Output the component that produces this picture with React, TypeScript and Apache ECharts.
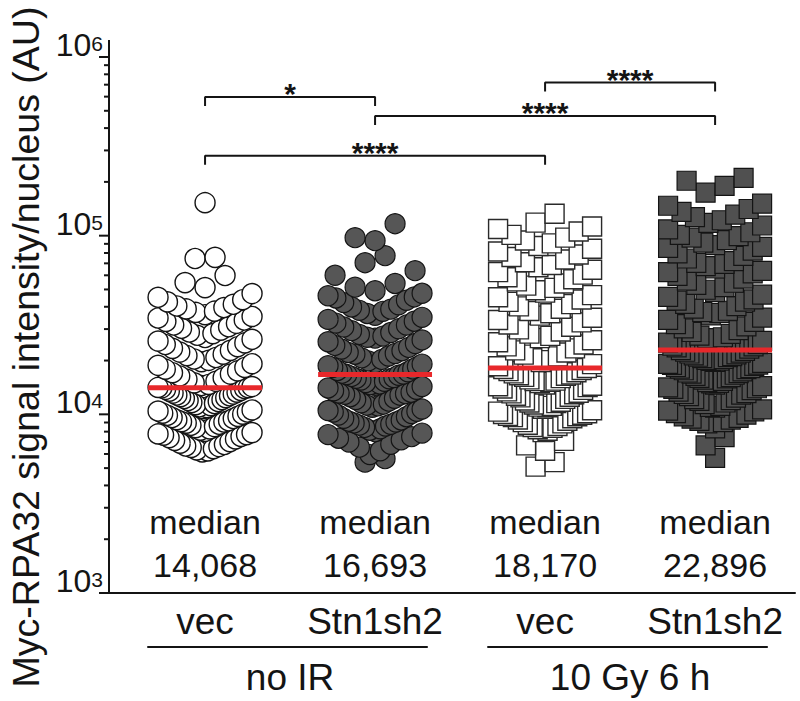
import React, { useEffect, useRef } from 'react';
import * as echarts from 'echarts';

// ---------- data ----------
const conditions = ['no IR', '10 Gy 6 h'];
const categories = ['vec', 'Stn1sh2', 'vec', 'Stn1sh2'];
const medians = [14068, 16693, 18170, 22896];
const yMajorTicks = [1000, 10000, 100000, 1000000];
const yMinorTicks = [
  2000, 3000, 4000, 5000, 6000, 7000, 8000, 9000,
  20000, 30000, 40000, 50000, 60000, 70000, 80000, 90000,
  200000, 300000, 400000, 500000, 600000, 700000, 800000, 900000,
];

// vec, no IR (open circles)
const vecNoIR = [
  153000, 75600, 74500, 59800, 54600, 51200, 47400,
  45200, 43800, 42600, 41300, 40400, 39600, 38900, 37800, 37200, 36100, 35300, 34600, 33700, 33100, 32300, 31600, 30900, 30300,
  29600, 28900, 28300, 27700, 26900, 26300, 25700, 25100, 24600, 23900, 23400, 22800, 22300, 21700, 21300, 20800, 20400, 20050,
  19700, 19200, 18800, 18300, 17900, 17500, 17100, 16800, 16400, 16000, 15700, 15300, 15000, 14700, 14500, 14300, 14150, 14100,
  14068,
  13950, 13800, 13620, 13480, 13300, 13150, 12980, 12820, 12700, 12550,
  12400, 12260, 12080, 11950, 11800, 11640, 11500, 11330, 11180, 11020,
  10900, 10750, 10580, 10430, 10300, 10150, 10020, 9880, 9740, 9600,
  9470, 9330, 9200, 9060, 8930, 8800, 8680, 8540, 8420, 8280,
  8160, 8030, 7900, 7770, 7650, 7520, 7400, 7280, 7150, 7030,
  6900, 6780, 6650, 6530, 6420, 6320, 6240, 6160, 6600, 7700, 9100,
];

// Stn1sh2, no IR (filled circles)
const stnNoIR = [
  116700, 97500, 93800, 77300, 70600, 63700, 60000, 54000, 51500,
  49200, 47600, 46100, 44800, 43500, 42200, 41000, 39900, 38800, 37700, 36700, 35800, 34900, 34000, 33200, 32400, 31600, 30800, 30100,
  29400, 28700, 28000, 27400, 26700, 26100, 25500, 24900, 24300, 23700, 23200, 22700, 22200, 21700, 21200, 20700, 20300,
  19900, 19500, 19100, 18700, 18300, 17950, 17600, 17300, 17000, 16800,
  45400, 38200, 27000, 21900, 18500,
  16693,
  16550, 16300, 16050, 15800, 15550, 15300, 15050, 14800, 14550, 14300,
  14050, 13800, 13550, 13300, 13050, 12800, 12550, 12300, 12100, 11850,
  11600, 11400, 11150, 10950, 10700, 10500, 10300, 10100, 9900, 9700,
  9500, 9300, 9150, 8950, 8800, 8600, 8450, 8300, 8150, 8000,
  7850, 7700, 7500, 7350, 7200, 7000, 6800, 6550, 6250, 5950,
  5650, 5400, 12950, 11250, 10400, 9050, 8700, 15900, 14650, 13150,
];

// vec, 10 Gy 6 h (open squares)
const vecIR = [
  132700, 118300, 112500, 109000, 105500,
  101000, 97500, 94000, 90500, 87500, 84500, 81500,
  78500, 76000, 73500, 71000, 68500, 66500, 64500, 62500, 60500, 58500, 57000, 55500, 54000, 52500, 51000,
  49500, 48000, 46500, 45200, 43900, 42600, 41400, 40200, 39000, 37900, 36800, 35700, 34700, 33700, 32700, 31800, 30900,
  29900, 29100, 28300, 27500, 26700, 26000, 25300, 24600, 24000, 23400, 22800, 22200, 21600, 21100, 20600, 20100, 19600, 19100, 18600,
  18170,
  17950, 17700, 17450, 17200, 16950, 16700, 16450, 16200, 15950, 15700,
  15450, 15200, 14950, 14700, 14450, 14200, 13950, 13700, 13450, 13200,
  12950, 12700, 12450, 12200, 11950, 11750, 11550, 11350, 11150, 10950,
  10750, 10550, 10350, 10150, 9950, 9800, 9650, 9500, 9350, 9200,
  9050, 8900, 8750, 8600, 8500, 8400, 8250, 8100, 7950, 7100,
  6700, 6250, 5400, 5100, 12550, 11050, 10050, 9750, 14350, 13100,
  15350, 16550, 11650,
];

// Stn1sh2, 10 Gy 6 h (filled squares)
const stnIR = [
  210700, 203000, 190000, 174000, 151000,
  147000, 141000, 136000, 131000, 127000, 122000, 118000, 114000,
  108500, 104500, 101000, 97500, 94500, 91500, 88500, 85500, 82500,
  79500, 77000, 74500, 72000, 69500, 67500, 65500, 63500, 61500, 59500, 57500, 56000, 54500, 53000, 51500,
  49800, 48300, 46800, 45400, 44000, 42700, 41500, 40300, 39100, 38000, 36900, 35800, 34800, 33800, 32900, 32000, 31100, 30300,
  29600, 28900, 28200, 27600, 27000, 26400, 25800, 25200, 24700, 24200, 23700, 23300,
  99500, 86500, 70500, 62500, 43300, 37400, 26700, 24000,
  22896,
  22650, 22400, 22150, 21900, 21650, 21400, 21150, 20900, 20650, 20400,
  20150, 19900, 19650, 19400, 19150, 18900, 18650, 18400, 18150, 17900,
  17650, 17400, 17150, 16900, 16650, 16400, 16150, 15900, 15650, 15400,
  15150, 14900, 14650, 14400, 14150, 13900, 13650, 13400, 13150, 12900,
  12650, 12400, 12150, 11900, 11650, 11400, 11150, 10900, 10650, 10400,
  10150, 9950, 9750, 9550, 9350, 9200, 9050, 8900, 8350, 7450,
  6700, 5700, 21000, 19000, 17000, 15000, 13000, 11000, 9450, 12000,
  14000, 16000, 18000, 20000, 10500,
];

// significance brackets (group positions 1..4, bracket height as a y value)
const bracketFrom = [1, 3, 2, 1];
const bracketTo = [2, 4, 4, 3];
const bracketLevel = [598000, 719000, 468000, 280000];
const bracketStars = ['*', '****', '****', '****'];

// ---------- layout / style ----------
const W = 800;
const H = 701;
const GRID = { left: 109, right: 5, top: 57, bottom: 108 };
const X_MIN = 0.435;
const X_MAX = 4.47;
const Y_MIN = 1000;
const Y_MAX = 1000000;
const SWARM_HALF_PX = 47;
const SWARM_BIN_DECADE = 0.13;
const MEDIAN_HALF = 0.335;
const BRACKET_DROP_PX = 9;
const STAR_LIFT_PX = 3;
const MEDIAN_TEXT_LIFT_PX = 50;
const MAJOR_TICK_PX = 10;
const MINOR_TICK_PX = 5;
const FONT = "'Liberation Sans', Arial, Helvetica, sans-serif";
const INK = '#141414';
const RED = '#e8282b';

const pxPerUnit = (W - GRID.left - GRID.right) / (X_MAX - X_MIN);
const pxPerDecade = (H - GRID.top - GRID.bottom) / Math.log10(Y_MAX / Y_MIN);
const liftValue = (v: number, px: number) => v * Math.pow(10, px / pxPerDecade);

const groups = [
  { values: vecNoIR, symbol: 'circle', size: 20, fill: '#ffffff', border: INK, bw: 1.4 },
  { values: stnNoIR, symbol: 'circle', size: 20, fill: '#565656', border: INK, bw: 1.2 },
  { values: vecIR, symbol: 'rect', size: 19, fill: '#ffffff', border: '#2a2a2a', bw: 1.4 },
  { values: stnIR, symbol: 'rect', size: 19, fill: '#505050', border: INK, bw: 1.2 },
];

// Prism-like column scatter: values binned by log value, spread sideways, lowest in the middle
function swarm(values: number[], center: number, symbolPx: number): number[][] {
  const bins: Record<number, number[]> = {};
  values.forEach((v) => {
    const b = Math.floor(Math.log10(v) / SWARM_BIN_DECADE);
    (bins[b] = bins[b] || []).push(v);
  });
  const pts: number[][] = [];
  Object.keys(bins)
    .map(Number)
    .sort((a, b) => a - b)
    .forEach((b) => {
      const vs = bins[b].slice().sort((a, c) => a - c);
      const n = vs.length;
      const spacing = n > 1 ? Math.min(symbolPx, (2 * SWARM_HALF_PX) / (n - 1)) : 0;
      const slots = Array.from({ length: n }, (_, j) => (j - (n - 1) / 2) * spacing);
      slots.sort((a, c) => Math.abs(a) - Math.abs(c) || a - c);
      vs.forEach((v, i) => pts.push([center + slots[i] / pxPerUnit, v]));
    });
  return pts;
}

const textLabel = (fontSize: number, extra: any = {}) => ({
  show: true,
  position: 'inside',
  formatter: '{b}',
  fontSize,
  color: INK,
  fontFamily: FONT,
  opacity: 1,
  ...extra,
});

function buildOption(): any {
  const series: any[] = [];
  groups.forEach((g, i) => {
    series.push({
      type: 'scatter',
      data: swarm(g.values, i + 1, g.size),
      symbol: g.symbol,
      symbolSize: g.size,
      itemStyle: { color: g.fill, borderColor: g.border, borderWidth: g.bw, opacity: 1 },
      silent: true,
      z: 2,
    });
  });
  medians.forEach((m, i) => {
    series.push({
      type: 'line',
      data: [
        [i + 1 - MEDIAN_HALF, m],
        [i + 1 + MEDIAN_HALF, m],
      ],
      symbol: 'none',
      lineStyle: { color: RED, width: 5 },
      silent: true,
      z: 5,
    });
  });
  bracketLevel.forEach((lvl, i) => {
    const low = liftValue(lvl, -BRACKET_DROP_PX);
    series.push({
      type: 'line',
      data: [
        [bracketFrom[i], low],
        [bracketFrom[i], lvl],
        [bracketTo[i], lvl],
        [bracketTo[i], low],
      ],
      symbol: 'none',
      lineStyle: { color: INK, width: 2 },
      silent: true,
      z: 4,
    });
  });
  series.push({
    type: 'scatter',
    data: bracketLevel.map((lvl, i) => ({
      value: [(bracketFrom[i] + bracketTo[i]) / 2, liftValue(lvl, STAR_LIFT_PX)],
      name: bracketStars[i],
    })),
    symbolSize: 1,
    itemStyle: { color: 'rgba(0,0,0,0)', opacity: 1 },
    label: textLabel(30, { fontWeight: 'bold' }),
    silent: true,
    z: 6,
  });
  series.push({
    type: 'scatter',
    data: medians.map((m, i) => ({
      value: [i + 1, liftValue(Y_MIN, MEDIAN_TEXT_LIFT_PX)],
      name: 'median\n' + m.toLocaleString('en-US'),
    })),
    symbolSize: 1,
    itemStyle: { color: 'rgba(0,0,0,0)', opacity: 1 },
    label: textLabel(34, { lineHeight: 43 }),
    silent: true,
    z: 6,
  });

  return {
    animation: false,
    backgroundColor: '#ffffff',
    grid: { ...GRID, containLabel: false },
    xAxis: {
      type: 'value',
      min: X_MIN,
      max: X_MAX,
      axisLine: { show: true, onZero: false, lineStyle: { color: INK, width: 2 } },
      axisTick: { show: false },
      splitLine: { show: false },
      axisLabel: {
        customValues: [1, 2, 3, 4],
        formatter: (v: number) => categories[Math.round(v) - 1] || '',
        fontSize: 37,
        color: INK,
        fontFamily: FONT,
        margin: 10,
      },
    },
    yAxis: {
      type: 'log',
      logBase: 10,
      min: Y_MIN,
      max: Y_MAX,
      position: 'left',
      axisLine: { show: true, onZero: false, lineStyle: { color: INK, width: 2 } },
      axisTick: { show: false },
      splitLine: { show: false },
      axisLabel: {
        margin: 6,
        verticalAlign: 'bottom',
        formatter: (v: number) => `{b|10}{s|${Math.round(Math.log10(v))}}`,
        rich: {
          b: { fontSize: 32, lineHeight: 24, color: INK, fontFamily: FONT },
          s: { fontSize: 21, lineHeight: 2, verticalAlign: 'top', color: INK, fontFamily: FONT },
        },
      },
    },
    series,
  };
}

export default function App() {
  const ref = useRef<HTMLDivElement>(null);
  useEffect(() => {
    if (!ref.current) return;
    const chart = echarts.init(ref.current, null, { renderer: 'svg', width: W, height: H });
    chart.setOption(buildOption());

    const toPx = (x: number, y: number) =>
      chart.convertToPixel({ xAxisIndex: 0, yAxisIndex: 0 }, [x, y]) as number[];
    const [axisX, yTop] = toPx(X_MIN, Y_MAX);
    const yBottom = toPx(X_MIN, Y_MIN)[1];
    const graphic: any[] = [
      {
        type: 'line',
        shape: { x1: axisX, y1: yTop - 17, x2: axisX, y2: yTop },
        style: { stroke: INK, lineWidth: 2 },
        silent: true,
      },
      {
        type: 'text',
        x: 26,
        y: 347,
        rotation: Math.PI / 2,
        style: {
          text: 'Myc-RPA32 signal intensity/nucleus (AU)',
          fontSize: 37.5,
          fontFamily: FONT,
          fill: INK,
          align: 'center',
          verticalAlign: 'middle',
        },
        silent: true,
      },
    ];
    // y-axis ticks, placed through the log scale of the y axis
    const addTick = (t: number, len: number) => {
      const y = toPx(X_MIN, t)[1];
      graphic.push({
        type: 'line',
        shape: { x1: axisX - len, y1: y, x2: axisX, y2: y },
        style: { stroke: INK, lineWidth: 2 },
        silent: true,
        z: 10,
      });
    };
    yMajorTicks.forEach((t) => addTick(t, MAJOR_TICK_PX));
    yMinorTicks.forEach((t) => addTick(t, MINOR_TICK_PX));

    conditions.forEach((c, k) => {
      const first = 1 + 2 * k;
      const second = 2 + 2 * k;
      const xl = toPx(first - 0.34, Y_MIN)[0];
      const xr = toPx(second + 0.31, Y_MIN)[0];
      const xc = toPx((first + second) / 2, Y_MIN)[0];
      graphic.push({
        type: 'line',
        shape: { x1: xl, y1: yBottom + 54, x2: xr, y2: yBottom + 54 },
        style: { stroke: INK, lineWidth: 2 },
        silent: true,
      });
      graphic.push({
        type: 'text',
        x: xc,
        y: yBottom + 84,
        style: {
          text: c,
          fontSize: 37,
          fontFamily: FONT,
          fill: INK,
          align: 'center',
          verticalAlign: 'middle',
        },
        silent: true,
      });
    });
    chart.setOption({ graphic });
    return () => chart.dispose();
  }, []);
  return (
    <div
      ref={ref}
      style={{ position: 'fixed', left: 0, top: 0, width: W, height: H, background: '#ffffff' }}
    />
  );
}
